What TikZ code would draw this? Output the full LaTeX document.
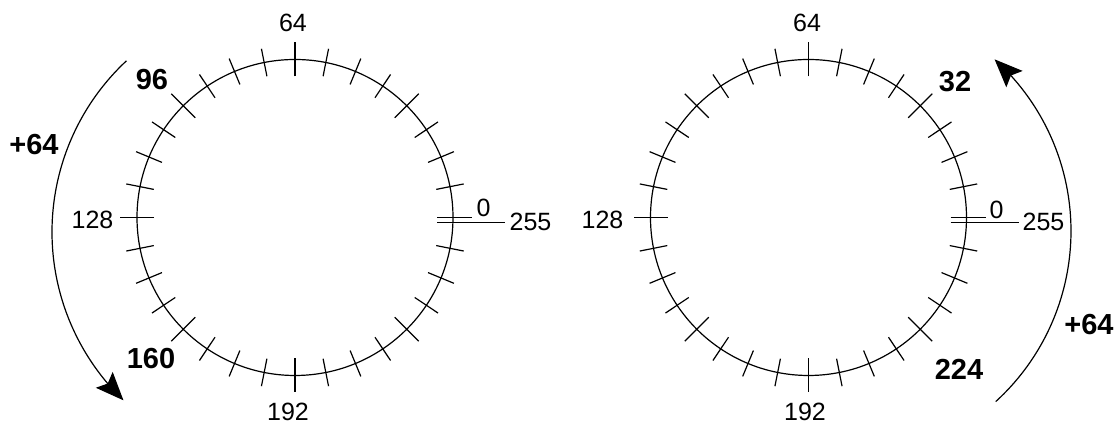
\documentclass[tikz,border=0pt]{standalone}
\usepackage{fontspec}
\setmainfont{Liberation Sans}
\usetikzlibrary{arrows.meta,bending}

\begin{document}
\begin{tikzpicture}[x=0.5pt,y=0.5pt,line width=0.6pt,
    num/.style={font=\fontsize{12.5}{14}\selectfont, inner sep=0pt},
    bnum/.style={font=\fontsize{14.5}{16}\selectfont\bfseries, inner sep=0pt},
    turn/.style={-{Stealth[length=14pt,width=11.5pt,inset=2.5pt]}}]
    \useasboundingbox (0,0) rectangle (1115,426);

    % Dial centres
    \coordinate (L) at (295,208.5);
    \coordinate (R) at (808.5,208.5);

    % Circles with ticks every 8 steps
    \foreach \c in {L,R} {
        \draw (\c) circle[radius=158];
        \foreach \k in {1,...,31} {
            \pgfmathsetmacro\a{\k*11.25}
            \pgfmathsetmacro\ri{mod(\k,4)==0 ? 141 : 144}
            \pgfmathsetmacro\ro{mod(\k,4)==0 ? 175 : 172}
            \draw ([shift={(\a:\ri)}]\c) -- ([shift={(\a:\ro)}]\c);
        }
        % 0 and 255 marks
        \draw ([shift={(142,0)}]\c) -- ++(35,0);
        \draw ([shift={(142,-5)}]\c) -- ++(68,0);
    }

    % Left dial labels
    \node[num] (l64) at (293,403.5) {64};
    \node[num, anchor=east] (l128) at (114,206) {128};
    \node[num] (l192) at (288,14) {192};
    \node[num] (l0) at (483.5,218.5) {0};
    \node[num, anchor=west] (l255) at (509,204) {255};
    \node[bnum] (l96) at (152,346) {96};
    \node[bnum] (l160) at (151,67) {160};
    \node[bnum] (lstep) at (34,281) {+64};

    % Right dial labels
    \node[num] (r64) at (807,403.5) {64};
    \node[num, anchor=east] (r128) at (624,206) {128};
    \node[num] (r192) at (805,14) {192};
    \node[num] (r0) at (996.5,216.5) {0};
    \node[num, anchor=west] (r255) at (1022,204) {255};
    \node[bnum] (r32) at (955,344) {32};
    \node[bnum] (r224) at (959,57) {224};
    \node[bnum] (rstep) at (1089,101) {+64};

    % Turning arrows
    \coordinate (La) at (286,194);
    \coordinate (Ra) at (840,195);
    \draw[turn] ([shift={(133:234)}]La) arc[start angle=133, end angle=226, radius=234];
    \draw[turn] ([shift={(-47.6:231)}]Ra) arc[start angle=-47.6, end angle=48, radius=231];
\end{tikzpicture}
\end{document}
